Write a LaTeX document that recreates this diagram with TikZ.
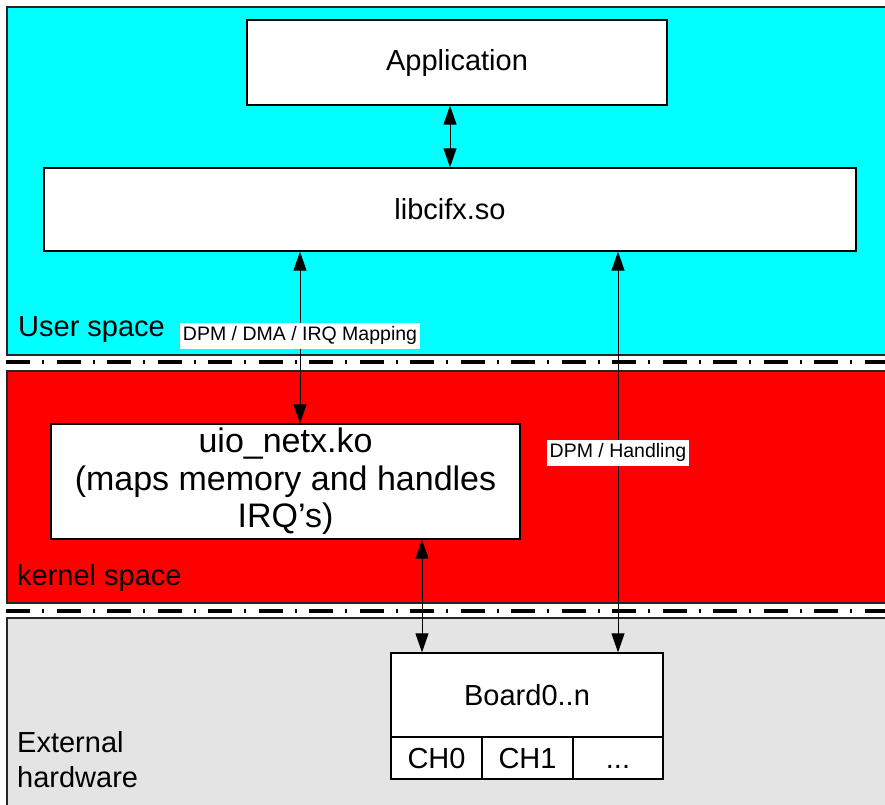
\documentclass[tikz,border=0pt]{standalone}
\usepackage{fontspec}
\setmainfont{Liberation Sans}
\usetikzlibrary{arrows.meta}
\definecolor{userbg}{RGB}{0,255,255}
\definecolor{kernbg}{RGB}{255,0,0}
\definecolor{hwbg}{RGB}{228,228,228}
\begin{document}
\begin{tikzpicture}[x=1pt,y=-1pt,
  region/.style={draw=black!85,line width=2pt},
  sep/.style={line width=3.5pt,dash pattern=on 24pt off 12pt on 2pt off 12.5pt},
  box/.style={draw,fill=white,line width=1.3pt,inner sep=0pt,align=center,
    font=\fontsize{29}{37}\selectfont},
  bigbox/.style={box,font=\fontsize{34}{37.5}\selectfont},
  cell/.style={box,text height=21pt,text depth=0pt},
  link/.style={line width=1pt,
    {Triangle[length=19pt,width=13pt]}-{Triangle[length=19pt,width=13pt]}},
  tag/.style={fill=white,inner xsep=3pt,inner ysep=4pt,text height=14pt,text depth=4.5pt,
    font=\fontsize{19.5}{22}\selectfont},
  area/.style={inner sep=0pt,align=left,font=\fontsize{29}{35}\selectfont}
]
\useasboundingbox (0,0) rectangle (885,804);
\clip (0,0) rectangle (885,804);

% layers: user space, kernel space, hardware
\draw[region,fill=userbg] (7,7) rectangle (905,355);
\draw[region,fill=kernbg] (7,371) rectangle (905,603);
\draw[region,fill=hwbg] (7,618) rectangle (905,830);
\draw[sep] (6,362) -- (895,362);
\draw[sep] (6,611) -- (895,611);

% components
\node[box,minimum width=420pt,minimum height=85pt] (app) at (457,62.5) {Application};
\node[box,minimum width=812pt,minimum height=83pt] (lib) at (450,209.5) {libcifx.so};
\node[bigbox,minimum width=469pt,minimum height=115pt] (uio) at (285.5,481.5)
  {uio\_netx.ko\\(maps memory and handles\\IRQ’s)};
\node[box,minimum width=272pt,minimum height=84pt] (board) at (527,695) {Board0..n};
\node[cell,minimum width=91pt,minimum height=42pt] (ch0) at (436.5,758) {CH0};
\node[cell,minimum width=91pt,minimum height=42pt] (ch1) at (527.5,758) {CH1};
\node[cell,minimum width=90pt,minimum height=42pt] (chn) at (618,758) {...};

% connector columns
\coordinate (xa) at (450,0);
\coordinate (xb) at (300,0);
\coordinate (xc) at (618,0);
\coordinate (xd) at (422,0);

\draw[link] (app.south -| xa) -- (lib.north -| xa);
\draw[link] (lib.south -| xb) -- node[tag,pos=0.49] (t1) {DPM / DMA / IRQ Mapping} (uio.north -| xb);
\draw[link] (lib.south -| xc) -- node[tag,pos=0.502] (t2) {DPM / Handling} (board.north -| xc);
\draw[link] (uio.south -| xd) -- (board.north -| xd);

% layer names
\node[area,anchor=base west] (us) at (18,336) {User space};
\node[area,anchor=base west] (ks) at (17,585) {kernel space};
\node[area,anchor=base west] (eh) at (17,787) {External\\hardware};
\end{tikzpicture}
\end{document}
